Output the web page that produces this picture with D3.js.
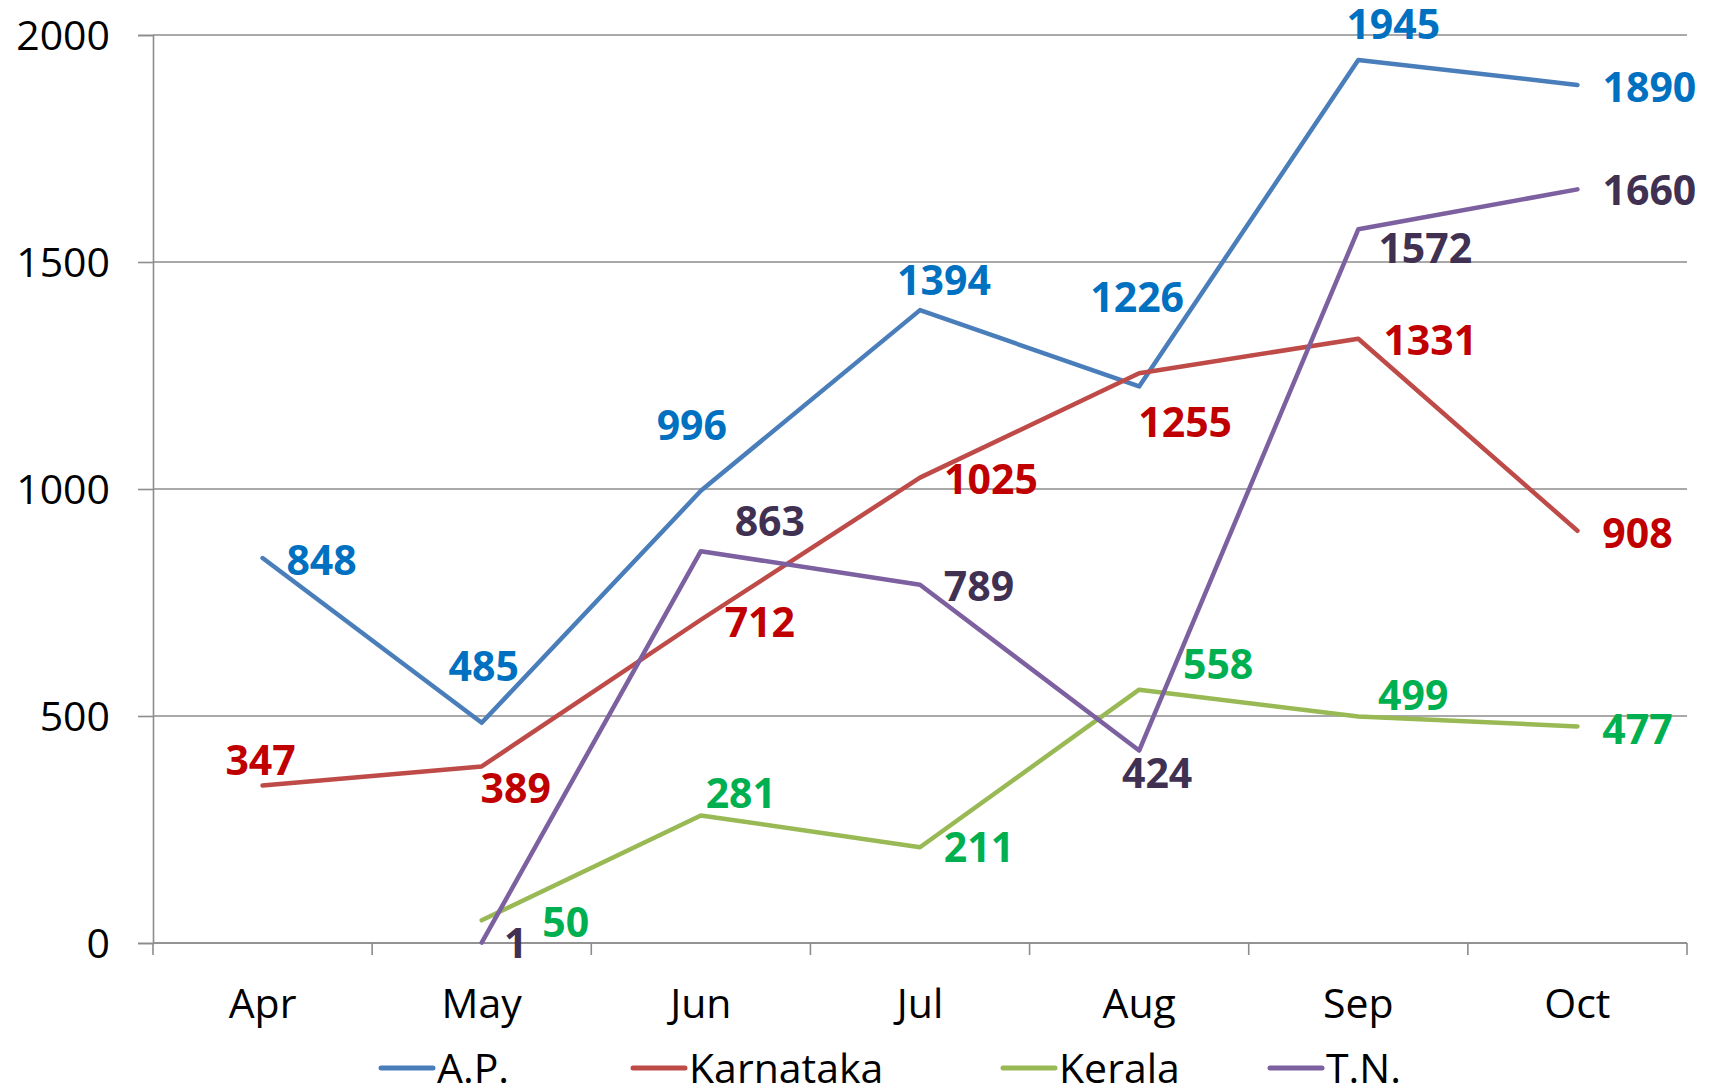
<!DOCTYPE html>
<html>
<head>
<meta charset="utf-8">
<script src="https://cdn.jsdelivr.net/npm/d3@7"></script>
<style>
  body { margin: 0; background: #fff; }
  svg { display: block; font-family: "Open Sans", sans-serif; }
</style>
</head>
<body>
<svg id="chart" width="1717" height="1090"></svg>
<script>
// chart data
const months = ["Apr", "May", "Jun", "Jul", "Aug", "Sep", "Oct"];
const yTicks = [0, 500, 1000, 1500, 2000];

const apValues        = [848, 485, 996, 1394, 1226, 1945, 1890];
const karnatakaValues = [347, 389, 712, 1025, 1255, 1331, 908];
const keralaValues    = [null, 50, 281, 211, 558, 499, 477];
const tnValues        = [null, 1, 863, 789, 424, 1572, 1660];

const seriesNames = ["A.P.", "Karnataka", "Kerala", "T.N."];

// where each data label sits, relative to its point (px)
const apLabelPos        = [[59,2],[2,-57],[-9,-66],[24,-30],[-2,-89],[35,-36],[72,2]];
const karnatakaLabelPos = [[-2,-25],[34,22],[59,2],[71,2],[46,49],[72,2],[60,2]];
const keralaLabelPos    = [null,[84,2],[40,-22],[59,0],[79,-25],[55,-21],[60,3]];
const tnLabelPos        = [null,[34,1],[69,-30],[59,1],[18,23],[67,19],[72,1]];

const series = [
  {name: seriesNames[0], values: apValues,        pos: apLabelPos,        line: "#4a7ebb", label: "#0070c0"},
  {name: seriesNames[1], values: karnatakaValues, pos: karnatakaLabelPos, line: "#be4b48", label: "#c00000"},
  {name: seriesNames[2], values: keralaValues,    pos: keralaLabelPos,    line: "#98b954", label: "#00b050"},
  {name: seriesNames[3], values: tnValues,        pos: tnLabelPos,        line: "#7d60a0", label: "#403152"}
];

const svg = d3.select('#chart');
const plotLeft = 153, plotRight = 1687, plotTop = 35, plotBottom = 943;
const fontSize = 41;

var x = d3.scaleBand().domain(months).range([plotLeft, plotRight]).padding(0);
var y = d3.scaleLinear().domain([0, 2000]).range([plotBottom, plotTop]);
const cx = function(m) { return x(m) + x.bandwidth() / 2; };

// gridlines
svg.append('g').selectAll('line').data(yTicks).enter().append('line')
    .attr('x1', plotLeft).attr('x2', plotRight)
    .attr('y1', d => y(d)).attr('y2', d => y(d))
    .attr('stroke', '#8c8c8c').attr('stroke-width', 1.6);

// y axis
const yAxis = svg.append('g')
    .attr('transform', 'translate(' + plotLeft + ',0)')
    .call(d3.axisLeft(y).tickValues(yTicks).tickSize(15).tickPadding(28).tickFormat(d3.format('d')));
yAxis.select('.domain').attr('stroke', '#8c8c8c').attr('stroke-width', 1.6);
yAxis.selectAll('.tick line').attr('stroke', '#8c8c8c').attr('stroke-width', 1.6);
yAxis.selectAll('.tick text').attr('font-size', fontSize).attr('fill', '#000')
    .attr('font-family', '"Open Sans", sans-serif').attr('dy', '0.36em');

// x axis line and boundary ticks
svg.append('line')
    .attr('x1', plotLeft).attr('x2', plotRight).attr('y1', plotBottom).attr('y2', plotBottom)
    .attr('stroke', '#8c8c8c').attr('stroke-width', 1.6);
const bounds = months.map(m => x(m)).concat([plotRight]);
svg.append('g').selectAll('line').data(bounds).enter().append('line')
    .attr('x1', d => d).attr('x2', d => d)
    .attr('y1', plotBottom).attr('y2', plotBottom + 12)
    .attr('stroke', '#8c8c8c').attr('stroke-width', 1.6);
svg.append('g').selectAll('text').data(months).enter().append('text')
    .attr('x', d => cx(d)).attr('y', 1018)
    .attr('text-anchor', 'middle').attr('font-size', fontSize).attr('fill', '#000')
    .text(d => d);

// lines
const line = d3.line()
    .defined(d => d.v !== null)
    .x(d => cx(d.m))
    .y(d => y(d.v));

series.forEach(function(s) {
    const pts = s.values.map((v, i) => ({m: months[i], v: v, p: s.pos[i]}));
    svg.append('path').datum(pts)
        .attr('d', line)
        .attr('fill', 'none')
        .attr('stroke', s.line)
        .attr('stroke-width', 4.5)
        .attr('stroke-linejoin', 'round')
        .attr('stroke-linecap', 'round');
});

// data labels on top
series.forEach(function(s) {
    const pts = s.values.map((v, i) => ({m: months[i], v: v, p: s.pos[i]})).filter(d => d.v !== null);
    svg.append('g').selectAll('text').data(pts).enter().append('text')
        .attr('x', d => cx(d.m) + d.p[0])
        .attr('y', d => y(d.v) + d.p[1])
        .attr('dy', '0.36em')
        .attr('text-anchor', 'middle')
        .attr('font-size', fontSize)
        .attr('font-weight', 'bold')
        .attr('fill', s.label)
        .text(d => d.v);
});

// legend
const legendX = [381, 633, 1003, 1270];
const legendY = 1068;
const legend = svg.append('g').selectAll('g').data(series).enter().append('g')
    .attr('transform', (d, i) => 'translate(' + legendX[i] + ',' + legendY + ')');
legend.append('line')
    .attr('x1', 0).attr('x2', 52).attr('y1', 0).attr('y2', 0)
    .attr('stroke', d => d.line).attr('stroke-width', 5).attr('stroke-linecap', 'round');
legend.append('text')
    .attr('x', 56).attr('y', 0).attr('dy', '0.36em')
    .attr('font-size', fontSize).attr('fill', '#000')
    .text(d => d.name);
</script>
</body>
</html>
